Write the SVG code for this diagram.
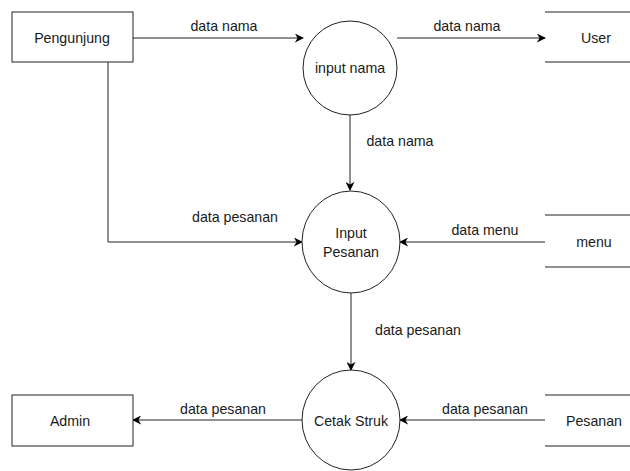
<svg xmlns="http://www.w3.org/2000/svg" width="630" height="471" viewBox="0 0 630 471">
  <style>
    .box { fill: #ffffff; stroke: #222222; stroke-width: 1; }
    .store { fill: none; stroke: #222222; stroke-width: 1; }
    .lbl { font-family: "Liberation Sans", Arial, Helvetica, sans-serif; font-size: 14.2px; fill: #1a1a1a; text-anchor: middle; dominant-baseline: central; }
    .flow { fill: none; stroke: #222222; stroke-width: 1; marker-end: url(#arrow); }
  </style>
  <defs>
    <marker id="arrow" viewBox="0 0 10 10" refX="9" refY="5" markerWidth="9" markerHeight="9" markerUnits="userSpaceOnUse" orient="auto">
      <path d="M0,0 L10,5 L0,10 L3,5 z" fill="#000000"/>
    </marker>
  </defs>
  <rect width="630" height="471" fill="#ffffff"/>

  <!-- connectors -->
  <g id="connectors">
    <path class="flow" d="M133,38 L303,38"/>
    <text class="lbl" x="224" y="26">data nama</text>
    <path class="flow" d="M397,38 L545,38"/>
    <text class="lbl" x="467" y="26">data nama</text>
    <path class="flow" d="M350,115 L350,190"/>
    <text class="lbl" x="400" y="141">data nama</text>
    <path class="flow" d="M108,62 L108,242 L302,242"/>
    <text class="lbl" x="235" y="217">data pesanan</text>
    <path class="flow" d="M545,242 L400,242"/>
    <text class="lbl" x="485" y="230">data menu</text>
    <path class="flow" d="M351,293 L351,370"/>
    <text class="lbl" x="418" y="330">data pesanan</text>
    <path class="flow" d="M303,420 L133,420"/>
    <text class="lbl" x="223" y="409">data pesanan</text>
    <path class="flow" d="M545,420 L400,420"/>
    <text class="lbl" x="485" y="409">data pesanan</text>
  </g>

  <!-- external entities -->
  <g id="pengunjung">
    <rect class="box" x="12" y="12" width="121" height="50"/>
    <text class="lbl" x="72" y="38">Pengunjung</text>
  </g>
  <g id="admin">
    <rect class="box" x="12" y="395" width="121" height="51"/>
    <text class="lbl" x="70" y="421">Admin</text>
  </g>

  <!-- processes -->
  <g id="input-nama">
    <ellipse class="box" cx="350" cy="68" rx="47" ry="47"/>
    <text class="lbl" x="350" y="68">input nama</text>
  </g>
  <g id="input-pesanan">
    <ellipse class="box" cx="351" cy="242" rx="49" ry="51"/>
    <text class="lbl" x="351" y="233">Input</text>
    <text class="lbl" x="351" y="252">Pesanan</text>
  </g>
  <g id="cetak-struk">
    <ellipse class="box" cx="351" cy="420" rx="49" ry="50"/>
    <text class="lbl" x="351" y="421">Cetak Struk</text>
  </g>

  <!-- data stores -->
  <g id="user">
    <path class="store" d="M545,12 L630,12 M545,62 L630,62"/>
    <text class="lbl" x="596" y="38">User</text>
  </g>
  <g id="menu">
    <path class="store" d="M545,215 L630,215 M545,267 L630,267"/>
    <text class="lbl" x="594" y="242">menu</text>
  </g>
  <g id="pesanan">
    <path class="store" d="M545,395 L630,395 M545,446 L630,446"/>
    <text class="lbl" x="594" y="421">Pesanan</text>
  </g>
</svg>
